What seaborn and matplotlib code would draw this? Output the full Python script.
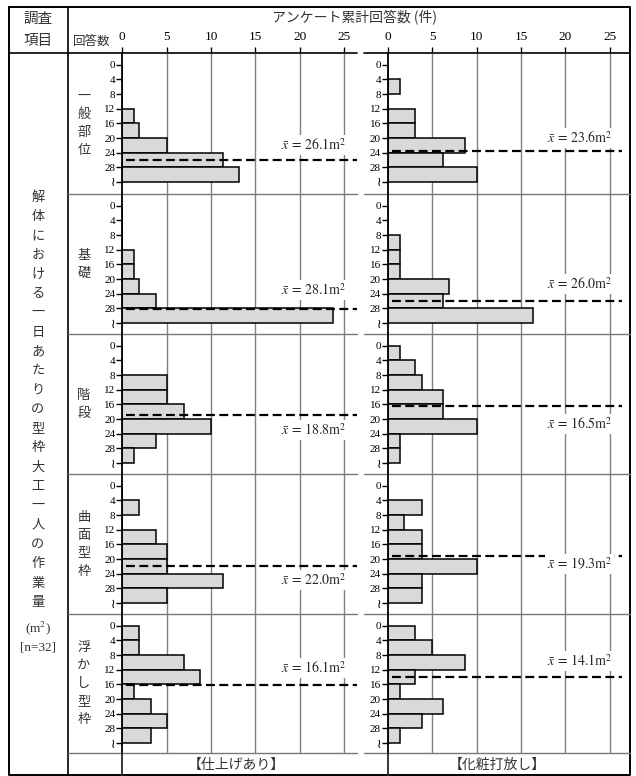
import numpy as np
import pandas as pd
import matplotlib.pyplot as plt
import seaborn as sns

# 解体における一日あたりの型枠大工一人の作業量 -- 横向きヒストグラム

# 作業量の区分 (m2)
edges = [0, 4, 8, 12, 16, 20, 24, 28, 32]
centers = [2, 6, 10, 14, 18, 22, 26, 30]
tick_labels = ['0', '4', '8', '12', '16', '20', '24', '28', '≀']
x_ticks = [0, 5, 10, 15, 20, 25]

items = ['一般部位', '基礎', '階段', '曲面型枠', '浮かし型枠']
groups = ['【仕上げあり】', '【化粧打放し】']

# 仕上げあり の回答数
fin_ippan = [0, 0, 0, 1.3, 1.9, 5.0, 11.3, 13.2]
fin_kiso = [0, 0, 0, 1.3, 1.3, 1.9, 3.8, 23.8]
fin_kaidan = [0, 0, 5.0, 5.0, 6.9, 10.0, 3.8, 1.3]
fin_kyokumen = [0, 1.9, 0, 3.8, 5.0, 5.0, 11.3, 5.0]
fin_ukashi = [1.9, 1.9, 6.9, 8.8, 1.3, 3.2, 5.0, 3.2]
fin_mean = [26.1, 28.1, 18.8, 22.0, 16.1]

# 化粧打放し の回答数
bare_ippan = [0, 1.3, 0, 3.1, 3.1, 8.7, 6.2, 10.0]
bare_kiso = [0, 0, 1.3, 1.3, 1.3, 6.9, 6.2, 16.3]
bare_kaidan = [1.3, 3.1, 3.8, 6.2, 6.2, 10.0, 1.3, 1.3]
bare_kyokumen = [0, 3.8, 1.8, 3.8, 3.8, 10.0, 3.8, 3.8]
bare_ukashi = [3.1, 5.0, 8.7, 3.1, 1.3, 6.2, 3.8, 1.3]
bare_mean = [23.6, 26.0, 16.5, 19.3, 14.1]

counts = [[fin_ippan, fin_kiso, fin_kaidan, fin_kyokumen, fin_ukashi],
          [bare_ippan, bare_kiso, bare_kaidan, bare_kyokumen, bare_ukashi]]
means = [fin_mean, bare_mean]
# 平均値ラベルの縦位置
label_y = [[21.9, 23.0, 23.0, 25.7, 11.5],
           [20.0, 21.4, 21.4, 21.4, 9.6]]

sns.set_style('white')
plt.rcParams['font.family'] = ['Liberation Serif', 'DejaVu Sans', 'Noto Sans CJK JP']
plt.rcParams['mathtext.fontset'] = 'stix'
JP = ['Noto Sans CJK JP', 'DejaVu Sans']

W, H = 636, 776
fig = plt.figure(figsize=(W / 100, H / 100), dpi=100)


def frac(x0, y0, x1, y1):
    return [x0 / W, 1 - y1 / H, (x1 - x0) / W, (y1 - y0) / H]


bx0, bx1, by0, by1 = 9, 630, 7, 775
col_x = 68
row_tops = [53, 194, 334, 474, 614, 753]
axis_x = [122.3, 388]
col_end = [357, 622]
line_end = [357, 630]
line_start = [68, 364]
px_per = 8.87
y_per = 32 / 117.3

# 表の枠
bg = fig.add_axes([0, 0, 1, 1], zorder=-1)
bg.set_xlim(0, W)
bg.set_ylim(H, 0)
bg.axis('off')
bg.plot([bx0, bx1, bx1, bx0, bx0], [by0, by0, by1, by1, by0], color='black', lw=1.4)
bg.plot([col_x, col_x], [by0, by1], color='black', lw=1.2)
bg.plot([bx0, col_x], [row_tops[0], row_tops[0]], color='black', lw=1.2)
for c in range(2):
    bg.plot([line_start[c], line_end[c]], [row_tops[0], row_tops[0]], color='black', lw=1.2)
    for y in row_tops[1:]:
        bg.plot([line_start[c], line_end[c]], [y, y], color='#777777', lw=1)

bg.text(38, 19, '調査', ha='center', va='center', fontsize=10.5, family=JP, color='#333333')
bg.text(38, 41, '項目', ha='center', va='center', fontsize=10.5, family=JP, color='#333333')
bg.text(355, 18, 'アンケート累計回答数 (件)', ha='center', va='center', fontsize=10, family=JP, color='#333333')
bg.text(92, 41, '回答数', ha='center', va='center', fontsize=9, family=JP, color='#333333')

# 左列の縦書き
side = '解体における一日あたりの型枠大工一人の作業量'
for i, ch in enumerate(side):
    bg.text(38, 197 + i * 19.3, ch, ha='center', va='center', fontsize=9.5, family=JP, color='#333333')
bg.text(38, 628, '(m$^2$)', ha='center', va='center', fontsize=9.5, color='#333333')
bg.text(38, 648, '[n=32]', ha='center', va='center', fontsize=9.5, color='#333333')

# 項目名の縦書き
for r, name in enumerate(items):
    yc = (row_tops[r] + row_tops[r + 1]) / 2
    n = len(name)
    for i, ch in enumerate(name):
        bg.text(84, yc + (i - (n - 1) / 2) * 18, ch, ha='center', va='center',
                fontsize=9.5, family=JP, color='#333333')

for c in range(2):
    xmax = (col_end[c] - axis_x[c]) / px_per
    for r in range(5):
        top, bot = row_tops[r], row_tops[r + 1]
        ax = fig.add_axes(frac(axis_x[c], top, col_end[c], bot))
        ax.set_facecolor('none')
        sns.histplot(y=centers, weights=counts[c][r], bins=edges, ax=ax,
                     color='#d9d9d9', edgecolor='black', linewidth=1.1, alpha=1, zorder=2)
        for g in x_ticks[1:]:
            ax.axvline(g, color='#808080', lw=1, zorder=0)
        ax.plot([0.4, xmax], [means[c][r], means[c][r]], color='black', lw=1.6,
                dashes=(4, 2), zorder=3)
        ax.text(25.3, label_y[c][r],
                r'$\bar{x}\,=\,%.1f\mathrm{m}^2$' % means[c][r],
                ha='right', va='center', fontsize=10, zorder=4,
                bbox=dict(fc='white', ec='none', pad=1.5))
        ax.set_xlim(0, xmax)
        ax.set_ylim(32 + (bot - top - 11.7 - 117.3) * y_per, -11.7 * y_per)
        ax.set_yticks(edges, tick_labels)
        for sp in ['top', 'right', 'bottom']:
            ax.spines[sp].set_visible(False)
        ax.spines['left'].set_linewidth(1.3)
        ax.spines['left'].set_color('black')
        ax.tick_params(axis='y', left=True, length=4, width=1, pad=1,
                       labelsize=8, colors='black')
        ax.get_yticklabels()[-1].set_fontsize(9)
        if r == 0:
            ax.xaxis.set_ticks_position('top')
            ax.set_xticks(x_ticks)
            ax.tick_params(axis='x', top=True, length=4, width=1, pad=3,
                           labelsize=9.5, colors='black')
        else:
            ax.set_xticks([])
        ax.set_xlabel('')
        ax.set_ylabel('')

    # 下段ラベル
    axb = fig.add_axes(frac(axis_x[c], row_tops[-1], col_end[c], by1))
    axb.set_facecolor('none')
    axb.set_xlim(0, xmax)
    axb.set_ylim(0, 1)
    for sp in ['top', 'right', 'bottom']:
        axb.spines[sp].set_visible(False)
    axb.spines['left'].set_linewidth(1.3)
    axb.set_xticks([])
    axb.set_yticks([])
    axb.text(12.8 if c == 0 else 12.3, 0.45, groups[c], ha='center', va='center',
             fontsize=10, family=JP, color='#333333')

fig.savefig('out.png', dpi=100)
